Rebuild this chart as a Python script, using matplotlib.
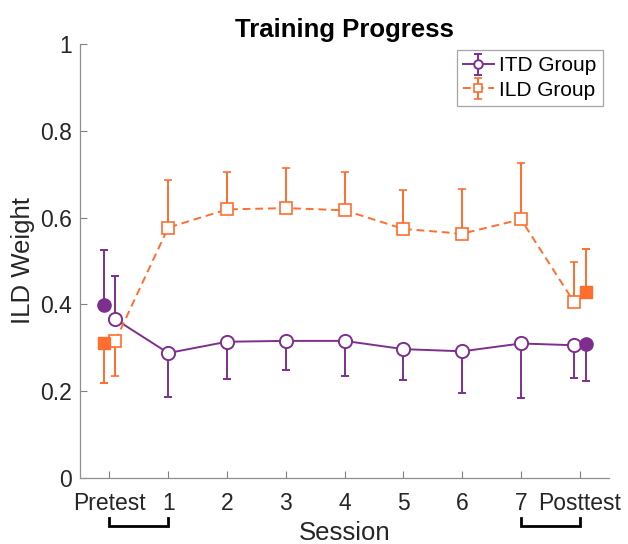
import matplotlib.pyplot as plt
import numpy as np

plt.rcParams['font.family'] = ['Liberation Sans', 'DejaVu Sans']

# Session labels
sessions = ['Pretest', '1', '2', '3', '4', '5', '6', '7', 'Posttest']

# Group means across sessions (open markers)
itd_mean = [0.366, 0.288, 0.314, 0.316, 0.316, 0.297, 0.292, 0.310, 0.306]
ild_mean = [0.316, 0.577, 0.619, 0.622, 0.617, 0.574, 0.563, 0.596, 0.406]
itd_sd = [0.099, 0.101, 0.085, 0.067, 0.082, 0.071, 0.097, 0.126, 0.076]
ild_sd = [0.080, 0.110, 0.086, 0.092, 0.088, 0.090, 0.104, 0.131, 0.091]
# +1 = bar drawn upward, -1 = downward
itd_dir = [1, -1, -1, -1, -1, -1, -1, -1, -1]
ild_dir = [-1, 1, 1, 1, 1, 1, 1, 1, 1]

# Separate pre/post test (filled markers)
itd_test = [0.399, 0.309]
itd_test_sd = [0.126, 0.086]
itd_test_dir = [1, -1]
ild_test = [0.310, 0.429]
ild_test_sd = [0.092, 0.098]
ild_test_dir = [-1, 1]

purple = '#7E2F8E'
orange = '#FF6E2E'


def split_err(sd, d):
    sd = np.array(sd)
    d = np.array(d)
    return [np.where(d < 0, sd, 0), np.where(d > 0, sd, 0)]


x = np.arange(len(sessions), dtype=float)
x_line = x.copy()
x_line[0] += 0.1
x_line[-1] -= 0.1
x_test = [x[0] - 0.1, x[-1] + 0.1]

fig = plt.figure(figsize=(6.28, 5.44), dpi=100)
ax = fig.add_axes([0.1274, 0.1213, 0.8426, 0.7977])

ax.errorbar(x_line, itd_mean, yerr=split_err(itd_sd, itd_dir), color=purple,
            lw=1.4, marker='o', ms=9.5, mfc='white', mec=purple, mew=1.4,
            capsize=2.8, elinewidth=1.4, capthick=1.4, label='ITD Group')
ax.errorbar(x_line, ild_mean, yerr=split_err(ild_sd, ild_dir), color=orange,
            lw=1.4, ls=(0, (4, 2.5)), marker='s', ms=8, mfc='white',
            mec=orange, mew=1.2, capsize=2.8, elinewidth=1.4, capthick=1.4,
            label='ILD Group')
ax.errorbar(x_test, itd_test, yerr=split_err(itd_test_sd, itd_test_dir),
            fmt='o', color=purple, ms=9.5, capsize=2.8, elinewidth=1.4,
            capthick=1.4)
ax.errorbar(x_test, ild_test, yerr=split_err(ild_test_sd, ild_test_dir),
            fmt='s', color=orange, ms=8, capsize=2.8, elinewidth=1.4,
            capthick=1.4)

ax.set_xlim(-0.5, 8.5)
ax.set_ylim(0, 1)
ax.set_xticks(x)
ax.set_xticklabels(sessions)
ax.set_yticks([0, 0.2, 0.4, 0.6, 0.8, 1])
ax.set_yticklabels(['0', '0.2', '0.4', '0.6', '0.8', '1'])
ax.tick_params(direction='in', length=5, width=0.8, color='#808080',
               labelsize=16.5, labelcolor='#262626')
ax.tick_params(axis='x', pad=10)
ax.tick_params(axis='y', pad=6)
for side in ['top', 'right']:
    ax.spines[side].set_visible(False)
for side in ['left', 'bottom']:
    ax.spines[side].set_color('#909090')
    ax.spines[side].set_linewidth(0.9)

ax.set_title('Training Progress', fontsize=18.5, fontweight='bold', pad=5)
ax.set_xlabel('Session', fontsize=18.5, color='#262626')
ax.set_ylabel('ILD Weight', fontsize=18.5, color='#262626')
ax.xaxis.set_label_coords(0.5, -0.1)
ax.yaxis.set_label_coords(-0.085, 0.5)

# brackets marking pretest-1 and 7-posttest comparisons
trans = ax.get_xaxis_transform()
for a, b in [(0, 1), (7, 8)]:
    ax.plot([a, a, b, b], [-0.092, -0.111, -0.111, -0.092], color='black',
            lw=2, transform=trans, clip_on=False, solid_joinstyle='miter')

leg = ax.legend(loc='upper right', bbox_to_anchor=(0.988, 0.986),
                borderaxespad=0, fontsize=15, fancybox=False,
                handlelength=1.5, handletextpad=0.25, borderpad=0.3,
                labelspacing=0.25, markerscale=0.65)
leg.get_frame().set_edgecolor('#909090')
leg.get_frame().set_linewidth(0.9)

fig.savefig('out.png', dpi=100)
